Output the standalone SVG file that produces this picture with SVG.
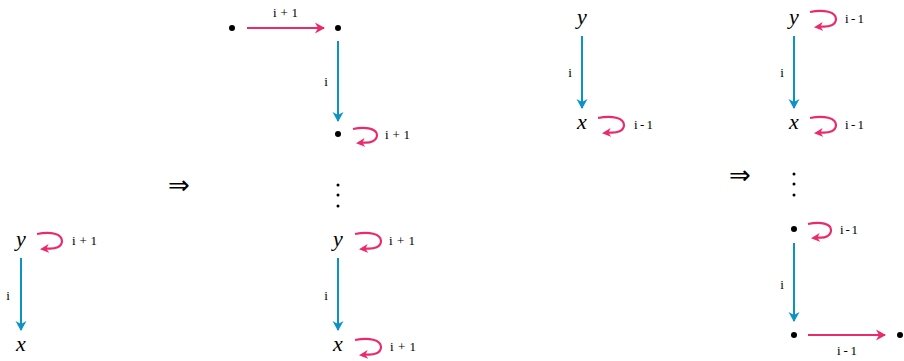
<svg xmlns="http://www.w3.org/2000/svg" width="904" height="361" viewBox="0 0 904 361">
<style>
.v{font-style:italic;font-size:22px;fill:#000;text-anchor:middle}
.l{font-size:13px;fill:#000}
.m{text-anchor:middle}
.b{stroke:#0a93c4;stroke-width:2;fill:none;marker-end:url(#ab)}
.p{stroke:#ea2a6c;stroke-width:2.2;fill:none;marker-end:url(#ap)}
.lp{stroke:#ea2a6c;stroke-width:2.2;fill:none;marker-end:url(#alp)}
.imp{font-size:26px;fill:#000;text-anchor:middle}
</style>
<defs>
<marker id="ab" viewBox="0 0 10 12" refX="9" refY="6" markerWidth="10" markerHeight="12" markerUnits="userSpaceOnUse" orient="auto"><path d="M0,0.5 L10,6 L0,11.5 L3,6 Z" fill="#0a93c4"/></marker>
<marker id="ap" viewBox="0 0 10 12" refX="9" refY="6" markerWidth="10" markerHeight="12" markerUnits="userSpaceOnUse" orient="auto"><path d="M0,0.5 L10,6 L0,11.5 L3,6 Z" fill="#ea2a6c"/></marker>
<marker id="alp" viewBox="0 0 9 10" refX="7" refY="5" markerWidth="9" markerHeight="10" markerUnits="userSpaceOnUse" orient="auto"><path d="M0,0.5 L9,5 L0,9.5 L2.5,5 Z" fill="#ea2a6c"/></marker>
</defs>

<g id="connectors">
<line class="b" x1="21" y1="258" x2="21" y2="330"/>
<path class="lp" d="M37,234 C51,231 62,234 62,241 C62,247 55,249 48,248.5 L42,249"/>
<line class="p" x1="247" y1="28" x2="324" y2="28"/>
<line class="b" x1="338" y1="41" x2="338" y2="121"/>
<path class="lp" d="M353,129 C366,126 377,129 377,135 C377,141 370,143 364,142.5 L358,143"/>
<path class="lp" d="M355,234 C369,231 381,234 381,241 C381,247 374,249 367,248.5 L361,249"/>
<line class="b" x1="338" y1="258" x2="338" y2="330"/>
<path class="lp" d="M355,340 C369,337 381,340 381,347 C381,353 374,355 367,354.5 L361,355"/>
<line class="b" x1="582" y1="36" x2="582" y2="108"/>
<path class="lp" d="M598,118 C612,115 624,118 624,125 C624,131 617,133 610,132.5 L604,133"/>
<path class="lp" d="M810,12 C824,9 836,12 836,19 C836,25 829,27 822,26.5 L816,27"/>
<line class="b" x1="794" y1="36" x2="794" y2="108"/>
<path class="lp" d="M810,118 C824,115 836,118 836,125 C836,131 829,133 822,132.5 L816,133"/>
<path class="lp" d="M808,224 C821,221 831,224 831,230 C831,236 825,238 819,237.5 L813,238"/>
<line class="b" x1="794" y1="243" x2="794" y2="321"/>
<line class="p" x1="808" y1="335" x2="885" y2="335"/>
</g>

<g id="labels" font-family="Liberation Serif, serif">
<text class="l" x="72" y="245" textLength="25" lengthAdjust="spacing">i+1</text>
<text class="l m" x="8" y="300">i</text>
<text class="l" x="273" y="17" textLength="25" lengthAdjust="spacing">i+1</text>
<text class="l m" x="326" y="86">i</text>
<text class="l" x="385" y="139" textLength="25" lengthAdjust="spacing">i+1</text>
<text class="l" x="389" y="245" textLength="26" lengthAdjust="spacing">i+1</text>
<text class="l m" x="326" y="300">i</text>
<text class="l" x="390" y="351" textLength="26" lengthAdjust="spacing">i+1</text>
<text class="l m" x="570" y="77">i</text>
<text class="l" x="634" y="129" textLength="19" lengthAdjust="spacing">i-1</text>
<text class="l" x="845" y="23" textLength="19" lengthAdjust="spacing">i-1</text>
<text class="l m" x="782" y="77">i</text>
<text class="l" x="845" y="129" textLength="19" lengthAdjust="spacing">i-1</text>
<text class="l" x="840" y="234" textLength="18" lengthAdjust="spacing">i-1</text>
<text class="l m" x="782" y="289">i</text>
<text class="l" x="837" y="355" textLength="20" lengthAdjust="spacing">i-1</text>
</g>

<g id="implies" font-family="DejaVu Sans, sans-serif">
<text class="imp" x="179" y="194">⇒</text>
<text class="imp" x="740" y="184">⇒</text>
</g>

<g font-family="Liberation Serif, serif">
<g id="d1-y"><text class="v" x="21" y="246">y</text></g>
<g id="d1-x"><text class="v" x="21" y="351">x</text></g>
<g id="d2-y"><text class="v" x="338" y="246">y</text></g>
<g id="d2-x"><text class="v" x="338" y="351">x</text></g>
<g id="d3-y"><text class="v" x="582" y="24">y</text></g>
<g id="d3-x"><text class="v" x="582" y="129">x</text></g>
<g id="d4-y"><text class="v" x="794" y="24">y</text></g>
<g id="d4-x"><text class="v" x="794" y="129">x</text></g>
</g>

<g id="d2-a"><circle cx="232" cy="28" r="3"/></g>
<g id="d2-b"><circle cx="338" cy="28" r="3"/></g>
<g id="d2-c"><circle cx="338" cy="134" r="3"/></g>
<g id="d2-dots"><circle cx="338" cy="185" r="1.5"/><circle cx="338" cy="195" r="1.5"/><circle cx="338" cy="206" r="1.5"/></g>
<g id="d4-dots"><circle cx="794" cy="174" r="1.5"/><circle cx="794" cy="184" r="1.5"/><circle cx="794" cy="195" r="1.5"/></g>
<g id="d4-a"><circle cx="794" cy="229" r="3"/></g>
<g id="d4-b"><circle cx="794" cy="335" r="3"/></g>
<g id="d4-c"><circle cx="900" cy="335" r="3"/></g>
</svg>
